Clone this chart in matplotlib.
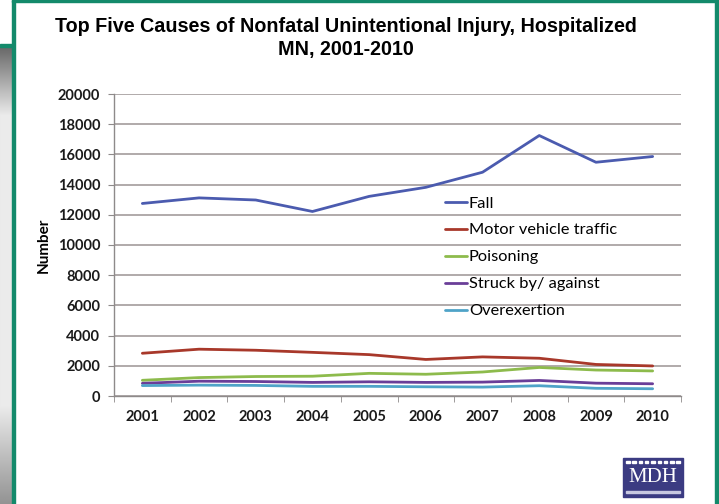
import matplotlib.pyplot as plt
import numpy as np
from matplotlib.patches import Rectangle
from matplotlib.ticker import FixedLocator

# data
years = [2001, 2002, 2003, 2004, 2005, 2006, 2007, 2008, 2009, 2010]
fall = [12750, 13120, 12980, 12220, 13220, 13820, 14820, 17250, 15480, 15860]
motor_vehicle = [2830, 3100, 3030, 2890, 2740, 2420, 2590, 2500, 2090, 1990]
poisoning = [1040, 1220, 1290, 1310, 1500, 1440, 1590, 1890, 1720, 1660]
struck_by = [840, 980, 960, 900, 940, 900, 920, 1030, 850, 810]
overexertion = [690, 720, 700, 640, 640, 610, 590, 680, 510, 480]

labels = ["Fall", "Motor vehicle traffic", "Poisoning",
          "Struck by/ against", "Overexertion"]
colors = ["#4B5BAF", "#A8382A", "#8DBB4C", "#6A3E98", "#4FA3C8"]
yticks = [0, 2000, 4000, 6000, 8000, 10000, 12000, 14000, 16000, 18000, 20000]

W, H = 719, 504
fig = plt.figure(figsize=(W / 100, H / 100), dpi=100)
fig.patch.set_facecolor("white")


def px(x0, y0, x1, y1):
    # pixel box (top-left origin) -> figure fraction rect
    return [x0 / W, 1 - y1 / H, (x1 - x0) / W, (y1 - y0) / H]


# slide decoration: grey gradient strip on the left
gax = fig.add_axes(px(0, 46, 12, 504))
grad = np.concatenate([np.linspace(0.40, 0.92, 70), np.full(290, 0.92),
                       np.linspace(0.92, 0.58, 98)])
gax.imshow(grad[:, None], cmap="gray", vmin=0, vmax=1, aspect="auto")
gax.axis("off")

green = "#138A6B"
for box in [(0, 44, 13, 47), (12, 0, 15, 504), (12, 0, 719, 2),
            (715, 0, 719, 504)]:
    x0, y0, x1, y1 = box
    fig.patches.append(Rectangle((x0 / W, 1 - y1 / H), (x1 - x0) / W,
                                 (y1 - y0) / H, transform=fig.transFigure,
                                 color=green, zorder=5))

# main chart
ax = fig.add_axes(px(114, 94, 681, 396))
series = [fall, motor_vehicle, poisoning, struck_by, overexertion]
for vals, lab, col in zip(series, labels, colors):
    ax.plot(years, vals, color=col, lw=2.0, label=lab, solid_capstyle="round")

ax.set_xlim(2000.5, 2010.5)
ax.set_ylim(0, 20000)
ax.set_yticks(yticks)
ax.set_xticks(years)
ax.xaxis.set_minor_locator(FixedLocator(np.arange(2000.5, 2011, 1)))
ax.grid(axis="y", color="#A39C9C", lw=1.2)
ax.set_axisbelow(True)
for s in ["top", "right"]:
    ax.spines[s].set_visible(False)
for s in ["left", "bottom"]:
    ax.spines[s].set_color("#8E8A8A")
    ax.spines[s].set_linewidth(1.0)
ax.tick_params(axis="y", length=4, color="#8E8A8A", pad=6)
ax.tick_params(axis="x", which="major", length=0, pad=10)
ax.tick_params(axis="x", which="minor", length=4, color="#8E8A8A")
for lbl in ax.get_xticklabels() + ax.get_yticklabels():
    lbl.set_fontfamily("Lato")
    lbl.set_fontweight("bold")
    lbl.set_fontsize(10.5)
    lbl.set_color("#1A1A1A")

ax.set_ylabel("Number", fontfamily="Lato", fontweight="bold", fontsize=11,
              labelpad=5)

ax.legend(loc="upper left", bbox_to_anchor=(0.584, 0.662), frameon=False,
          borderaxespad=0, borderpad=0, handlelength=1.35, handletextpad=0.1,
          labelspacing=0.76, prop={"family": "Lato", "size": 11.8})

fig.text(346 / W, 1 - 27 / H,
         "Top Five Causes of Nonfatal Unintentional Injury, Hospitalized",
         ha="center", va="center", fontfamily="Liberation Sans",
         fontweight="bold", fontsize=14.2)
fig.text(346 / W, 1 - 50 / H, "MN, 2001-2010", ha="center", va="center",
         fontfamily="Liberation Sans", fontweight="bold", fontsize=14.2)

# MDH logo
navy = "#3B3B82"
lx0, ly0, lx1, ly1 = 623, 458, 683, 497
fig.patches.append(Rectangle((lx0 / W, 1 - ly1 / H), (lx1 - lx0) / W,
                             (ly1 - ly0) / H, transform=fig.transFigure,
                             color=navy, zorder=5))
for i in range(9):
    x = lx0 + 3 + i * 6.3
    fig.patches.append(Rectangle((x / W, 1 - 463 / H), 3.5 / W, 2.5 / H,
                                 transform=fig.transFigure, color="white",
                                 zorder=6))
fig.patches.append(Rectangle(((lx0 + 3) / W, 1 - 493 / H), (lx1 - lx0 - 6) / W,
                             2 / H, transform=fig.transFigure, color="#C8C8E0",
                             zorder=6))
fig.text((lx0 + lx1) / 2 / W, 1 - 477 / H, "MDH", ha="center", va="center",
         fontfamily="Liberation Serif", fontsize=15, color="white", zorder=7)

fig.savefig("out.png", dpi=100)
